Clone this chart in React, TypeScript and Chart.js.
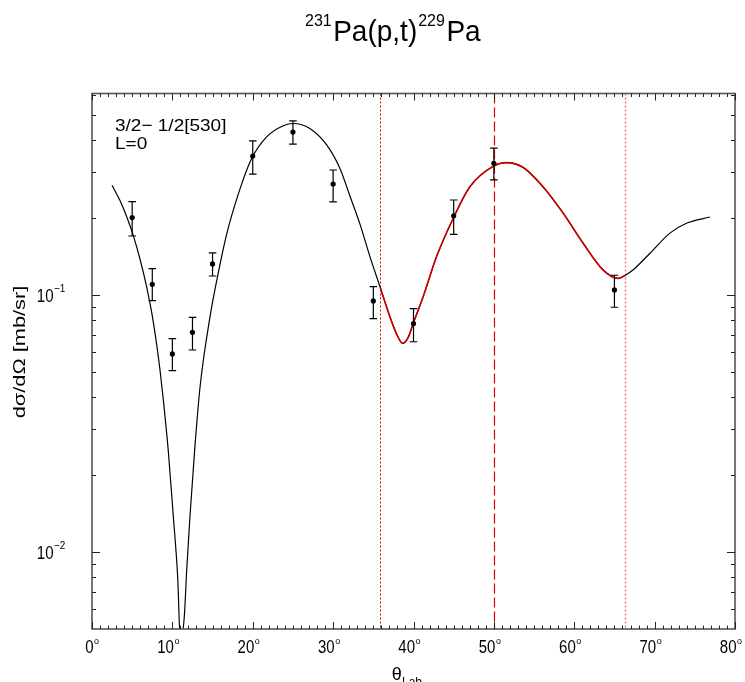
import { useEffect, useRef } from 'react';
import { Chart, registerables } from 'chart.js';

Chart.register(...registerables);

// Theory curve (DWBA) - angle in degrees, cross-section in mb/sr
const curveX = [2.49, 3.48, 4.31, 5.14, 5.97, 6.8, 7.42, 8.04, 8.46, 8.87, 9.49, 10.1, 10.66, 11.0, 11.48, 11.78, 12.19, 12.81, 13.45, 14.68, 15.5, 16.75, 18.2, 19.86, 21.73, 23.8, 25.04, 27.1, 29.2, 30.85, 32.09, 33.33, 34.58, 35.86, 37.06, 37.9, 38.64, 39.3, 39.97, 41.2, 42.87, 45.02, 47.0, 49.96, 51.58, 53.65, 56.13, 58.62, 61.1, 63.6, 65.46, 66.3, 67.3, 69.4, 71.9, 73.96, 76.87];
const curveY = [0.267, 0.233, 0.202, 0.17, 0.138, 0.1076, 0.0857, 0.0644, 0.0511, 0.0392, 0.0248, 0.014, 0.008, 0.0045, 0.0056, 0.00848, 0.01384, 0.0259, 0.0441, 0.0822, 0.113, 0.172, 0.2466, 0.339, 0.412, 0.455, 0.464, 0.444, 0.383, 0.31, 0.2425, 0.189, 0.141, 0.107, 0.0823, 0.0705, 0.0649, 0.068, 0.0776, 0.0985, 0.141, 0.201, 0.263, 0.317, 0.327, 0.313, 0.263, 0.208, 0.159, 0.125, 0.116, 0.119, 0.125, 0.145, 0.174, 0.19, 0.201];

// Experimental points
const dataX = [5, 7.5, 10, 12.5, 15, 20, 25, 30, 35, 40, 45, 50, 65];
const dataY = [0.2, 0.11, 0.059, 0.0716, 0.132, 0.347, 0.43, 0.27, 0.0948, 0.0774, 0.203, 0.325, 0.1046];
const errHi = [0.2305, 0.1265, 0.0676, 0.0819, 0.1457, 0.397, 0.475, 0.306, 0.1077, 0.0885, 0.234, 0.372, 0.1193];
const errLo = [0.1695, 0.095, 0.0508, 0.0611, 0.1185, 0.295, 0.386, 0.23, 0.0809, 0.0658, 0.172, 0.28, 0.0896];

// Fit range and markers
const fitFrom = 35.86;
const fitTo = 66.3;
const markerX = [35.86, 50, 66.3];

// Axes
const xMin = 0;
const xMax = 80;
const yMin = 0.00503;
const yMax = 0.607;
const xMajorTicks = [0, 10, 20, 30, 40, 50, 60, 70, 80];
const yMajorTicks = [0.01, 0.1];
const yMajorExp = ['\u22122', '\u22121'];

const FONT = '"Liberation Sans", Arial, Helvetica, sans-serif';

function txt(ctx: CanvasRenderingContext2D, s: string, x: number, y: number, size: number, align: CanvasTextAlign = 'left', sx = 1, sy = 1) {
  ctx.save();
  ctx.translate(x, y);
  ctx.scale(sx, sy);
  ctx.font = `${size}px ${FONT}`;
  ctx.textAlign = align;
  ctx.textBaseline = 'alphabetic';
  ctx.fillStyle = '#000';
  ctx.fillText(s, 0, 0);
  ctx.restore();
}
function width(ctx: CanvasRenderingContext2D, s: string, size: number) {
  ctx.save();
  ctx.font = `${size}px ${FONT}`;
  const w = ctx.measureText(s).width;
  ctx.restore();
  return w;
}

const decor = {
  id: 'decor',
  beforeDatasetsDraw(chart: any) {
    const { ctx, chartArea: a, scales } = chart;
    const xs = scales.x;
    const styles = [
      { c: '#e00000', d: [2, 2], w: 1 },
      { c: '#e00000', d: [10, 4], w: 1.2 },
      { c: '#ff7070', d: [2, 2], w: 1.4 },
    ];
    markerX.forEach((v, i) => {
      const px = Math.round(xs.getPixelForValue(v)) + 0.5;
      ctx.save();
      ctx.strokeStyle = styles[i].c;
      ctx.lineWidth = styles[i].w;
      ctx.setLineDash(styles[i].d);
      ctx.beginPath();
      ctx.moveTo(px, a.top);
      ctx.lineTo(px, a.bottom);
      ctx.stroke();
      ctx.restore();
    });
  },
  afterDatasetsDraw(chart: any) {
    const { ctx, chartArea: a, scales } = chart;
    const xs = scales.x;
    const ys = scales.y;
    // error bars
    ctx.save();
    ctx.strokeStyle = '#000';
    ctx.lineWidth = 1.2;
    dataX.forEach((x, i) => {
      const px = xs.getPixelForValue(x);
      const ph = ys.getPixelForValue(errHi[i]);
      const pl = ys.getPixelForValue(errLo[i]);
      ctx.beginPath();
      ctx.moveTo(px, ph);
      ctx.lineTo(px, pl);
      ctx.moveTo(px - 3.8, ph);
      ctx.lineTo(px + 3.8, ph);
      ctx.moveTo(px - 3.8, pl);
      ctx.lineTo(px + 3.8, pl);
      ctx.stroke();
    });
    ctx.restore();

    // frame
    ctx.save();
    ctx.strokeStyle = '#555';
    ctx.lineWidth = 1.6;
    ctx.strokeRect(a.left, a.top, a.right - a.left, a.bottom - a.top);
    ctx.restore();

    // ticks
    ctx.save();
    ctx.strokeStyle = '#222';
    ctx.lineWidth = 1;
    ctx.beginPath();
    for (let v = xMin; v <= xMax; v += 1) {
      const px = Math.round(xs.getPixelForValue(v)) + 0.5;
      const len = xMajorTicks.includes(v) ? 7 : 3.5;
      ctx.moveTo(px, a.bottom);
      ctx.lineTo(px, a.bottom - len);
      ctx.moveTo(px, a.top);
      ctx.lineTo(px, a.top + len);
    }
    [0.001, 0.01, 0.1].forEach((d) => {
      for (let m = 1; m <= 9; m++) {
        const v = m * d;
        if (v < yMin || v > yMax) continue;
        const py = Math.round(ys.getPixelForValue(v)) + 0.5;
        const len = m === 1 ? 8 : 4;
        ctx.moveTo(a.left, py);
        ctx.lineTo(a.left + len, py);
        ctx.moveTo(a.right, py);
        ctx.lineTo(a.right - len, py);
      }
    });
    ctx.stroke();
    ctx.restore();

    // x tick labels
    xMajorTicks.forEach((v) => {
      const px = xs.getPixelForValue(v);
      const s = String(v);
      const right = px + 1.5;
      txt(ctx, s, right, a.bottom + 23.5, 15, 'right', 1, 1.28);
      txt(ctx, 'o', right + 0.5, a.bottom + 14.5, 9, 'left', 1, 1.1);
    });
    // y tick labels
    yMajorTicks.forEach((v, i) => {
      const py = ys.getPixelForValue(v);
      txt(ctx, '10', 53.5, py + 6.8, 15, 'right', 1, 1.28);
      txt(ctx, yMajorExp[i], 54, py - 3, 10, 'left', 1, 1.1);
    });

    // title
    let x = 305;
    txt(ctx, '231', x, 25.7, 16);
    x += width(ctx, '231', 16) + 1.5;
    txt(ctx, 'Pa(p,t)', x, 41, 28, 'left', 1, 1.05);
    x += width(ctx, 'Pa(p,t)', 28) + 1;
    txt(ctx, '229', x, 25.7, 16);
    x += width(ctx, '229', 16) + 1.5;
    txt(ctx, 'Pa', x, 41, 28, 'left', 1, 1.05);

    // annotation
    txt(ctx, '3/2\u2212 1/2[530]', 115, 131, 19, 'left', 1, 0.9);
    txt(ctx, 'L=0', 115, 149, 19, 'left', 1, 0.9);

    // axis titles
    ctx.save();
    ctx.translate(25, 352);
    ctx.rotate(-Math.PI / 2);
    ctx.scale(1.36, 1);
    ctx.font = `16px ${FONT}`;
    ctx.textAlign = 'center';
    ctx.fillStyle = '#000';
    ctx.fillText('d\u03c3/d\u03a9 [mb/sr]', 0, 0);
    ctx.restore();

    txt(ctx, '\u03b8', 391.7, 680, 18);
    txt(ctx, 'Lab', 402, 685.5, 12);
  },
};

export default function App() {
  const ref = useRef<HTMLCanvasElement>(null);
  useEffect(() => {
    if (!ref.current) return;
    const curve = curveX.map((x, i) => ({ x, y: curveY[i] }));
    const fit = curve.filter((p) => p.x >= fitFrom && p.x <= fitTo);
    const pts = dataX.map((x, i) => ({ x, y: dataY[i] }));
    const chart = new Chart(ref.current, {
      type: 'line',
      data: {
        datasets: [
          {
            data: pts,
            showLine: false,
            pointRadius: 2.6,
            pointBackgroundColor: '#000',
            pointBorderWidth: 0,
            borderColor: '#000',
            order: 0,
          },
          {
            data: fit,
            borderColor: '#cc0000',
            borderWidth: 1.6,
            pointRadius: 0,
            cubicInterpolationMode: 'monotone',
            order: 1,
          },
          {
            data: curve,
            borderColor: '#000',
            borderWidth: 1.2,
            pointRadius: 0,
            cubicInterpolationMode: 'monotone',
            order: 2,
          },
        ],
      },
      options: {
        animation: false,
        responsive: false,
        devicePixelRatio: 1,
        layout: { padding: { left: 92, right: 10, top: 93.5, bottom: 53 } },
        plugins: { legend: { display: false }, tooltip: { enabled: false }, title: { display: false } },
        scales: {
          x: {
            type: 'linear',
            min: xMin,
            max: xMax,
            grid: { display: false },
            border: { display: false },
            ticks: { display: false },
            afterFit: (s: any) => { s.height = 0; },
          },
          y: {
            type: 'logarithmic',
            min: yMin,
            max: yMax,
            grid: { display: false },
            border: { display: false },
            ticks: { display: false },
            afterFit: (s: any) => { s.width = 0; },
          },
        },
      },
      plugins: [decor],
    } as any);
    return () => chart.destroy();
  }, []);
  return (
    <canvas
      ref={ref}
      width={745}
      height={682}
      style={{ position: 'absolute', left: 0, top: 0, display: 'block', background: '#fff' }}
    />
  );
}
